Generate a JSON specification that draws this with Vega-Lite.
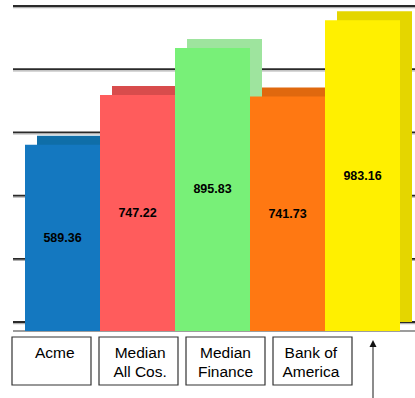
{
  "$schema": "https://vega.github.io/schema/vega-lite/v6.json",
  "width": 402,
  "height": 398,
  "autosize": {"type": "none"},
  "padding": {"left": 13, "right": 0, "top": 0, "bottom": 0},
  "background": "white",
  "config": {"view": {"stroke": null}, "font": "Liberation Sans"},
  "datasets": {
    "bars": [
      {"name": "Acme", "label": ["Acme"], "value": 589.36},
      {"name": "Median All Cos.", "label": ["Median", "All Cos."], "value": 747.22},
      {"name": "Median Finance", "label": ["Median", "Finance"], "value": 895.83},
      {"name": "Bank of America", "label": ["Bank of", "America"], "value": 741.73},
      {"name": "Subject", "label": [""], "value": 983.16}
    ],
    "grid": [{"tick": 0}, {"tick": 200}, {"tick": 400}, {"tick": 600}, {"tick": 800}, {"tick": 1000}]
  },
  "data": {"name": "bars"},
  "resolve": {"scale": {"x": "independent", "y": "independent", "color": "independent"}, "axis": {"x": "independent", "y": "independent"}},
  "layer": [
    {
      "data": {"name": "grid"},
      "mark": {"type": "rule", "yOffset": 1.6, "stroke": "#b0b0b0", "strokeWidth": 1.2},
      "encoding": {
        "y": {"field": "tick", "type": "quantitative", "axis": null,
              "scale": {"domain": [0, 1000], "range": [322, 6], "nice": false}}
      }
    },
    {
      "data": {"name": "grid"},
      "mark": {"type": "rule", "stroke": "#2a2a2a", "strokeWidth": 1.8},
      "encoding": {
        "y": {"field": "tick", "type": "quantitative", "axis": null,
              "scale": {"domain": [0, 1000], "range": [322, 6], "nice": false}}
      }
    },
    {
      "mark": {"type": "rule", "yOffset": 9, "stroke": "#999999", "strokeWidth": 1},
      "encoding": {
        "y": {"datum": 0, "type": "quantitative", "axis": null,
              "scale": {"domain": [0, 1000], "range": [322, 6], "nice": false}}
      }
    },
    {
      "mark": {"type": "bar", "xOffset": 12, "x2Offset": 12},
      "encoding": {
        "x": {"field": "name", "type": "nominal", "sort": null, "axis": null,
              "scale": {"domain": ["Acme", "Median All Cos.", "Median Finance", "Bank of America", "Subject"], "range": [12, 387], "paddingInner": 0, "paddingOuter": 0}},
        "y": {"field": "value", "type": "quantitative", "axis": null,
              "scale": {"domain": [0, 1000], "range": [322, 6], "nice": false}},
        "color": {"field": "name", "type": "nominal", "legend": null,
                  "scale": {"domain": ["Acme", "Median All Cos.", "Median Finance", "Bank of America", "Subject"], "range": ["#0f6ea8", "#d84c4c", "#9ee49e", "#e0680e", "#e4d600"]}}
      }
    },
    {
      "mark": {"type": "bar", "yOffset": 9, "y2Offset": 9},
      "encoding": {
        "x": {"field": "name", "type": "nominal", "sort": null, "axis": null,
              "scale": {"domain": ["Acme", "Median All Cos.", "Median Finance", "Bank of America", "Subject"], "range": [12, 387], "paddingInner": 0, "paddingOuter": 0}},
        "y": {"field": "value", "type": "quantitative", "axis": null,
              "scale": {"domain": [0, 1000], "range": [322, 6], "nice": false}},
        "color": {"field": "name", "type": "nominal", "legend": null,
                  "scale": {"domain": ["Acme", "Median All Cos.", "Median Finance", "Bank of America", "Subject"], "range": ["#1478c0", "#ff5c5c", "#78f078", "#ff7812", "#fff000"]}}
      }
    },
    {
      "mark": {"type": "text", "fontWeight": "bold", "fontSize": 12.5, "color": "#000000", "baseline": "middle"},
      "encoding": {
        "x": {"field": "name", "type": "nominal", "sort": null, "axis": null,
              "scale": {"domain": ["Acme", "Median All Cos.", "Median Finance", "Bank of America", "Subject"], "range": [12, 387], "paddingInner": 0, "paddingOuter": 0}},
        "y": {"field": "value", "type": "quantitative", "axis": null,
              "scale": {"domain": [0, 1000], "range": [331, 173], "nice": false}},
        "text": {"field": "value", "type": "quantitative", "format": ".2f"}
      }
    },
    {
      "transform": [{"filter": "datum.name != 'Subject'"}],
      "mark": {"type": "rect", "fill": "white", "stroke": "#333333", "strokeWidth": 1.2},
      "encoding": {
        "x": {"field": "name", "type": "nominal", "sort": null, "axis": null,
              "scale": {"domain": ["Acme", "Median All Cos.", "Median Finance", "Bank of America", "Subject"], "range": [-1, 426], "paddingInner": 0.092, "paddingOuter": 0}},
        "y": {"datum": 0, "type": "quantitative", "axis": null, "scale": {"domain": [0, 1], "range": [337, 385], "nice": false}},
        "y2": {"datum": 1}
      }
    },
    {
      "transform": [{"filter": "datum.name != 'Subject'"}],
      "mark": {"type": "text", "fontSize": 15.5, "lineHeight": 19, "baseline": "top", "align": "center", "dy": 9, "color": "#000000"},
      "encoding": {
        "x": {"field": "name", "type": "nominal", "sort": null, "axis": null,
              "scale": {"domain": ["Acme", "Median All Cos.", "Median Finance", "Bank of America", "Subject"], "range": [-1, 426], "paddingInner": 0.092, "paddingOuter": 0}},
        "y": {"datum": 0, "type": "quantitative", "axis": null, "scale": {"domain": [0, 1], "range": [337, 385], "nice": false}},
        "text": {"field": "label"}
      }
    },
    {
      "transform": [{"filter": "datum.name == 'Subject'"}],
      "mark": {"type": "rule", "xOffset": 10.5, "stroke": "#666666", "strokeWidth": 1.5},
      "encoding": {
        "x": {"field": "name", "type": "nominal", "sort": null, "axis": null,
              "scale": {"domain": ["Acme", "Median All Cos.", "Median Finance", "Bank of America", "Subject"], "range": [12, 387], "paddingInner": 0, "paddingOuter": 0}},
        "y": {"datum": 0, "type": "quantitative", "axis": null, "scale": {"domain": [0, 1], "range": [345, 400], "nice": false}},
        "y2": {"datum": 1}
      }
    },
    {
      "transform": [{"filter": "datum.name == 'Subject'"}],
      "mark": {"type": "point", "xOffset": 10.5, "shape": "M0,0L1,2L-1,2Z", "size": 49, "filled": true, "color": "#111111", "opacity": 1},
      "encoding": {
        "x": {"field": "name", "type": "nominal", "sort": null, "axis": null,
              "scale": {"domain": ["Acme", "Median All Cos.", "Median Finance", "Bank of America", "Subject"], "range": [12, 387], "paddingInner": 0, "paddingOuter": 0}},
        "y": {"datum": 0, "type": "quantitative", "axis": null, "scale": {"domain": [0, 1], "range": [340, 400], "nice": false}}
      }
    }
  ]
}
